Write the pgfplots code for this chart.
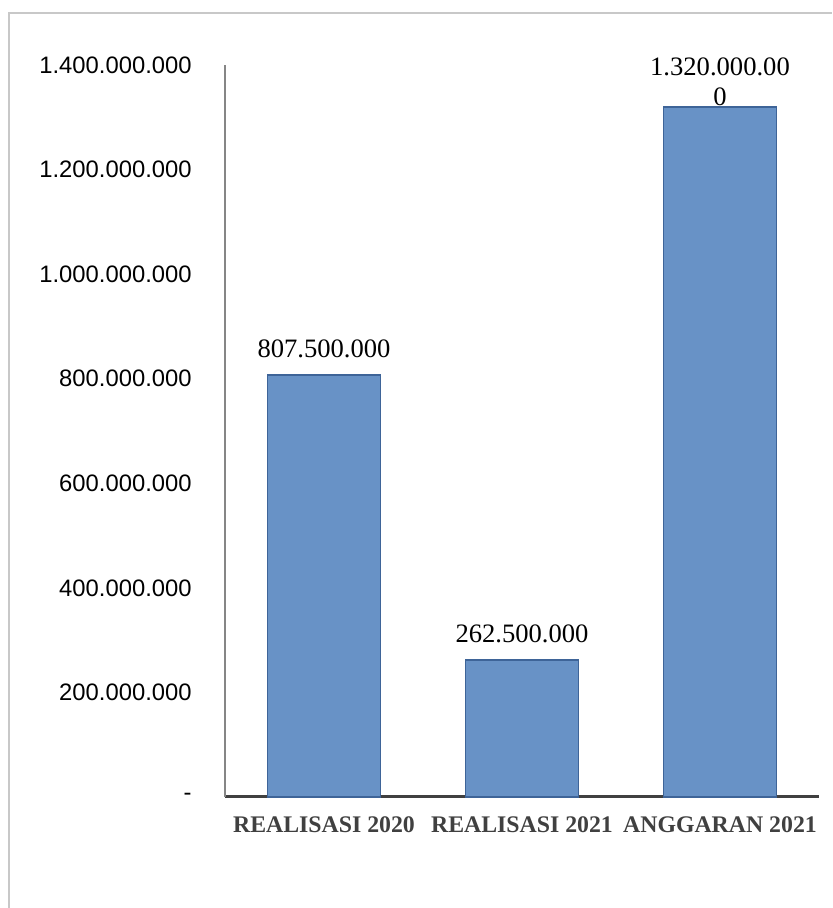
\documentclass[border=0pt]{standalone}
\usepackage{pgfplots}
\pgfplotsset{compat=1.18}
\usepackage{fontspec}
\setmainfont{Liberation Serif}
\newfontfamily\arial{Liberation Sans}

\definecolor{barfill}{RGB}{104,146,198}
\definecolor{barline}{RGB}{62,100,152}
\definecolor{framegray}{RGB}{200,200,200}
\definecolor{axisgray}{RGB}{134,134,134}
\definecolor{xaxis}{RGB}{64,64,64}
\definecolor{xlab}{RGB}{64,64,64}

\begin{document}
\begin{tikzpicture}
\begin{axis}[
  at={(0,0)}, anchor=south west,
  scale only axis, width=297pt, height=366pt,
  xmin=-0.5, xmax=2.5, ymin=0, ymax=1400000000,
  axis x line*=bottom, axis y line*=left,
  x axis line style={xaxis, line width=1.5pt, -},
  y axis line style={axisgray, line width=0.7pt, -},
  major tick length=0pt,
  xtick={0,1,2},
  xticklabels={REALISASI 2020, REALISASI 2021, ANGGARAN 2021},
  xticklabel style={font=\bfseries\fontsize{11.9}{14}\selectfont, text=xlab, anchor=north, inner sep=0pt, yshift=-9.5pt},
  ytick={0,200000000,400000000,600000000,800000000,1000000000,1200000000,1400000000},
  yticklabels={-,200.000.000,400.000.000,600.000.000,800.000.000,1.000.000.000,1.200.000.000,1.400.000.000},
  yticklabel style={font=\arial\fontsize{11.9}{14}\selectfont, anchor=east, inner sep=0pt, xshift=-16.5pt},
  scaled y ticks=false,
  ybar, bar width=56.5pt, bar shift=0pt,
  point meta=explicit symbolic,
  nodes near coords,
  nodes near coords style={font=\fontsize{13.3}{15}\selectfont, anchor=base, inner sep=0pt, yshift=8.5pt},
  clip=false,
]
\addplot[fill=barfill, draw=barline, line width=0.8pt] coordinates {(0,807500000) [807.500.000]};
\addplot[fill=barfill, draw=barline, line width=0.8pt] coordinates {(1,262500000) [262.500.000]};
\addplot[fill=barfill, draw=barline, line width=0.8pt,
  nodes near coords style={anchor=south, align=center, yshift=-8.5pt}] coordinates {(2,1320000000) [1.320.000.00\\0]};
\end{axis}
\draw[framegray, line width=1pt] (-108pt,-55.5pt) -- (-108pt,392pt) -- (303.5pt,392pt);
\pgfresetboundingbox
\path[use as bounding box] (-112.5pt,-55.5pt) rectangle (303.5pt,398.5pt);
\end{tikzpicture}
\end{document}
